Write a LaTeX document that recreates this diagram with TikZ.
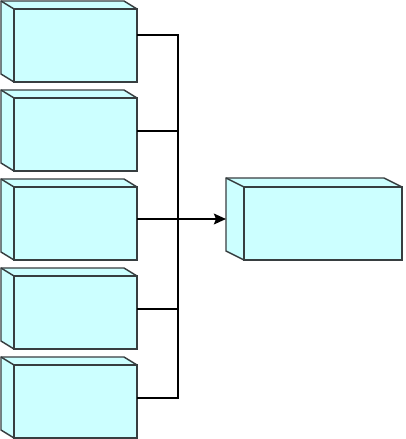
\documentclass[tikz,border=0pt]{standalone}
\usetikzlibrary{arrows.meta}
\definecolor{boxfill}{RGB}{204,255,255}
\definecolor{boxline}{RGB}{55,62,64}
\tikzset{
  x=0.75pt, y=-0.75pt,
  boxface/.style={fill=boxfill, draw=boxline, line width=1.1pt, line join=miter},
  frontface/.style={boxface, rectangle, inner sep=0pt, outer sep=0pt, anchor=north west},
  wire/.style={draw=black, line width=1.8pt},
  tip/.style={-{Stealth[length=9pt,width=8pt,inset=1.5pt]}},
}
% name, x1, y1, x2, y2, dx, dy
\newcommand\depthbox[7]{%
  \path[boxface] (#2-#6,#3-#7) -- (#4-#6,#3-#7) -- (#4,#3) -- (#4,#5)
     -- (#2,#5) -- (#2-#6,#5-#7) -- cycle;
  \draw[boxface, fill=none] (#2-#6,#3-#7) -- (#2,#3);
  \node[frontface, minimum width={(#4-#2)*0.75pt}, minimum height={(#5-#3)*0.75pt}] (#1) at (#2,#3) {};
}
\begin{document}
\begin{tikzpicture}
  \useasboundingbox (0,0) rectangle (405,439);
  \depthbox{b1}{14}{9}{137}{82}{13}{8}
  \depthbox{b2}{14}{98}{137}{171}{13}{8}
  \depthbox{b3}{14}{187}{137}{260}{13}{8}
  \depthbox{b4}{14}{276}{137}{349}{13}{8}
  \depthbox{b5}{14}{365}{137}{438}{13}{8}
  \depthbox{r}{244}{187}{402}{260}{18}{9}
  % connector points on the boxes and on the spine
  \coordinate (o1) at (137,35);  \coordinate (j1) at (178,35);
  \coordinate (o2) at (137,131); \coordinate (j2) at (178,131);
  \coordinate (o3) at (137,219); \coordinate (j3) at (178,219);
  \coordinate (o4) at (137,309); \coordinate (j4) at (178,309);
  \coordinate (o5) at (137,398); \coordinate (j5) at (178,398);
  \coordinate (rin) at (226,219);
  \draw[wire] (o1) -- (j1);
  \draw[wire] (o2) -- (j2);
  \draw[wire] (o4) -- (j4);
  \draw[wire] (o5) -- (j5);
  \draw[wire, line cap=rect] (j1) -- (j5);
  \draw[wire, tip] (o3) -- (rin);
\end{tikzpicture}
\end{document}
